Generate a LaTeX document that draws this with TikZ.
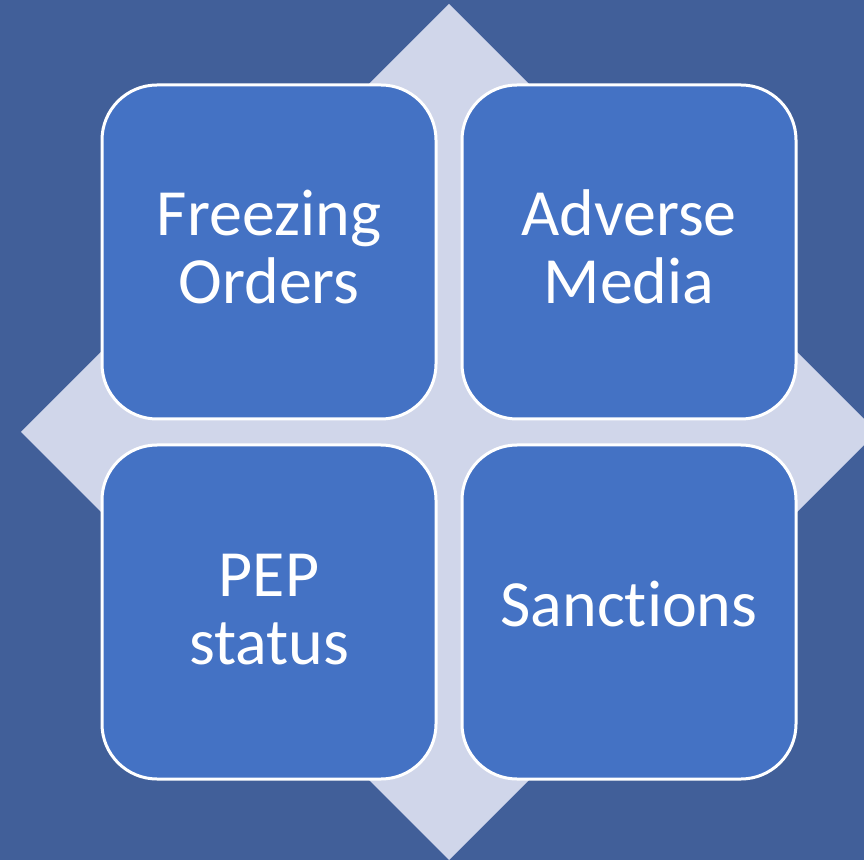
\documentclass[tikz,border=0pt]{standalone}
\usepackage{fontspec}
\setmainfont[Ligatures={NoCommon,NoRare,NoContextual}]{Carlito}
\definecolor{bgblue}{HTML}{415F99}
\definecolor{boxblue}{HTML}{4472C4}
\definecolor{lav}{HTML}{D0D6EA}
\begin{document}
\begin{tikzpicture}[x=1pt,y=1pt,
  card/.style={draw=white, line width=3pt, fill=boxblue, rounded corners=55pt},
  lbl/.style={text=white, font=\fontsize{66}{70}\selectfont, anchor=base, inner sep=0pt}]
\fill[bgblue] (0,0) rectangle (864,860);
\clip (0,0) rectangle (864,860);
\useasboundingbox (0,0) rectangle (864,860);
\fill[lav] (449,856) -- (877,428) -- (449,0) -- (21,428) -- cycle;
\draw[card] (102,441) rectangle (436,775);
\draw[card] (462,441) rectangle (796,775);
\draw[card] (102,81) rectangle (436,415);
\draw[card] (462,81) rectangle (796,415);
\node[lbl] (f1) at (269,624) {Freezing};
\node[lbl] (f2) at (269,556) {Orders};
\node[lbl] (a1) at (629,624) {Adverse};
\node[lbl] (a2) at (629,556) {Media};
\node[lbl] (p1) at (269,264) {PEP};
\node[lbl] (p2) at (269,196) {status};
\node[lbl] (s1) at (629,234) {Sanc\kern0pt t\kern0pt i\kern0pt ons};
\end{tikzpicture}
\end{document}
